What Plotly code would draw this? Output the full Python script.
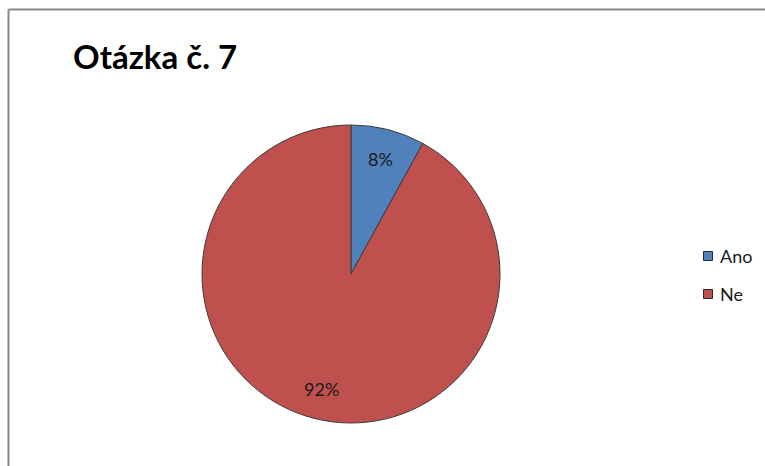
import math
import plotly.graph_objects as go

categories = ["Ano", "Ne"]
values = [8, 92]
colors = ["#4F81BD", "#C0504D"]
title_text = "Otázka č. 7"

W, H = 765, 466
cx, cy, R = 351, 274, 149

fig = go.Figure()
fig.add_trace(go.Pie(
    labels=categories,
    values=values,
    sort=False,
    direction="clockwise",
    rotation=0,
    marker=dict(colors=colors, line=dict(color="#3c3c3c", width=1)),
    textinfo="none",
    domain=dict(x=[(cx - R) / W, (cx + R) / W], y=[(H - cy - R) / H, (H - cy + R) / H]),
    showlegend=False,
    hoverinfo="label+percent",
))

shapes = [
    dict(type="line", xref="paper", yref="paper", x0=8.5 / W, x1=8.5 / W, y0=0, y1=1 - 9.5 / H,
         line=dict(color="#878787", width=2)),
    dict(type="line", xref="paper", yref="paper", x0=8.5 / W, x1=1, y0=1 - 9.5 / H, y1=1 - 9.5 / H,
         line=dict(color="#878787", width=2)),
]
annotations = [
    dict(text="<b>" + title_text + "</b>", xref="paper", yref="paper", x=71 / W, y=1 - 56 / H,
         xanchor="left", yanchor="middle", showarrow=False,
         font=dict(family="Lato", size=33, color="#000000")),
]

# data labels placed along each slice's mid-angle
total = sum(values)
cum = 0
for v in values:
    mid = (cum + v / 2) / total * 2 * math.pi
    cum += v
    r = 0.8 * R
    px = cx + r * math.sin(mid)
    py = cy - r * math.cos(mid)
    annotations.append(dict(text=f"{round(100 * v / total)}%", xref="paper", yref="paper",
                            x=px / W, y=1 - py / H, xanchor="center", yanchor="middle",
                            showarrow=False, font=dict(family="Lato", size=18, color="#1a1a1a")))

# manual legend
leg_y = [256, 294]
for cat, col, ly in zip(categories, colors, leg_y):
    shapes.append(dict(type="rect", xref="paper", yref="paper",
                       x0=703.5 / W, x1=712.5 / W, y0=1 - (ly - 4.5) / H, y1=1 - (ly + 4.5) / H,
                       fillcolor=col, line=dict(color="#2a2a2a", width=1)))
    annotations.append(dict(text=cat, xref="paper", yref="paper", x=718 / W, y=1 - ly / H,
                            xanchor="left", yanchor="middle", showarrow=False,
                            font=dict(family="Lato", size=18, color="#1a1a1a")))

fig.update_layout(
    width=W, height=H,
    margin=dict(l=0, r=0, t=0, b=0),
    paper_bgcolor="white",
    plot_bgcolor="white",
    shapes=shapes,
    annotations=annotations,
)
fig.write_html("out.html")
